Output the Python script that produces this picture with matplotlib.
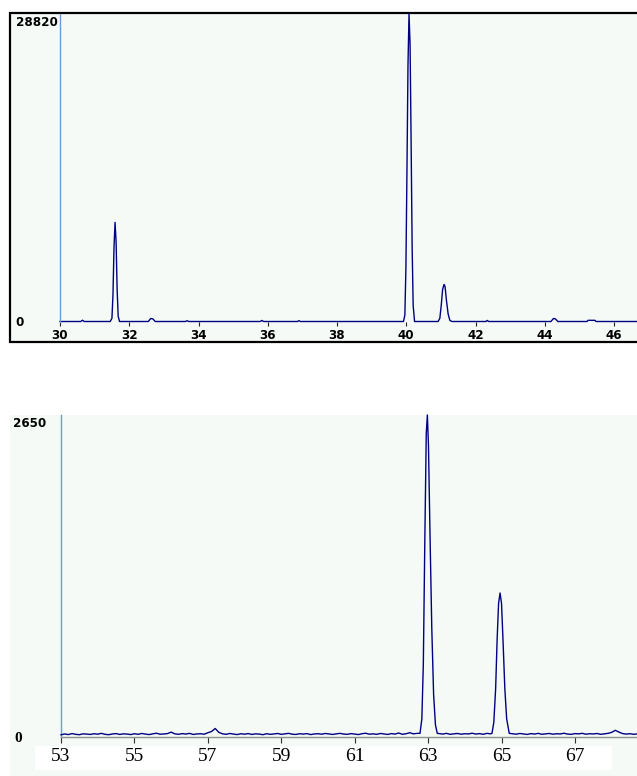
import numpy as np
import matplotlib
matplotlib.use('Agg')
import matplotlib.pyplot as plt
from matplotlib.patches import Rectangle

W, H = 637, 776
BG = '#f5faf7'
LINE = '#000080'
AXIS_BLUE = '#6a9bd8'

# --- top scan (2-theta 30..46.7), counts ---
top_x = [30.0, 30.60, 30.65, 30.70, 31.45, 31.50, 31.53, 31.56, 31.59, 31.62, 31.65, 31.68, 31.72,
         32.55, 32.62, 32.68, 32.75, 33.62, 33.67, 33.72, 35.78, 35.83, 35.88, 36.86, 36.90, 36.94,
         39.92, 39.96, 39.99, 40.02, 40.05, 40.08, 40.11, 40.14, 40.17, 40.20, 40.24,
         40.92, 40.97, 41.01, 41.05, 41.09, 41.12, 41.16, 41.21, 41.26, 41.32,
         42.30, 42.34, 42.38, 44.18, 44.25, 44.30, 44.38, 45.22, 45.25, 45.45, 45.48, 46.70]
top_y = [0, 0, 120, 0, 0, 300, 2500, 7000, 9290, 7500, 3000, 500, 0,
         0, 280, 250, 0, 0, 70, 0, 0, 100, 0, 0, 80, 0,
         0, 600, 5000, 14000, 24000, 28820, 26000, 17000, 7000, 1500, 0,
         0, 300, 1500, 3000, 3470, 3300, 2000, 700, 100, 0,
         0, 100, 0, 0, 280, 260, 0, 0, 110, 110, 0, 0]
top_ymax = 28820
top_ticks = [30, 32, 34, 36, 38, 40, 42, 44, 46]

# --- bottom scan (2-theta 53..68.7), counts ---
base1_y = [18, 25, 20, 28, 22, 19, 26, 24, 21, 27,
           23, 30, 22, 19, 25, 28, 21, 26, 24, 20,
           27, 22, 29, 24, 20, 26, 31, 23, 25, 28,
           40, 26, 22, 28, 24, 30, 21, 25, 27, 23,
           35, 45, 70, 38, 26, 22, 29, 24, 20, 27,
           23, 28, 21, 26, 24, 19, 27, 22, 25, 29,
           22, 26, 30, 23, 21, 27, 24, 28, 20, 25,
           27, 23, 29, 25, 21, 26, 30, 24, 22, 28,
           24, 20, 27, 31, 23, 26, 22, 29, 25, 21,
           28, 24, 33, 22, 27, 35, 26, 30]
peak1_x = [62.78, 62.83, 62.87, 62.91, 62.95, 62.98, 63.01, 63.05, 63.10, 63.15, 63.20, 63.25]
peak1_y = [30, 150, 600, 1600, 2500, 2650, 2400, 1700, 900, 350, 100, 30]
base2_y = [28, 24, 30, 22, 26, 29, 23, 27, 25, 31, 24, 28, 22, 30, 26]
peak2_x = [64.74, 64.79, 64.84, 64.88, 64.92, 64.96, 65.00, 65.04, 65.09, 65.14, 65.21]
peak2_y = [30, 120, 400, 800, 1100, 1185, 1100, 800, 400, 150, 30]
base3_y = [27, 23, 29, 25, 21, 28, 24, 30, 22, 26,
           29, 23, 27, 25, 31, 24, 22, 28, 26, 30,
           23, 27, 25, 29, 22, 26, 30, 38, 55, 40,
           28, 24, 27, 22, 26]
bot_ymax = 2650
bot_ticks = [53, 55, 57, 59, 61, 63, 65, 67]


def px_rect(left, top, right, bottom):
    return [left / W, 1 - bottom / H, (right - left) / W, (bottom - top) / H]


def sample_x(start, n):
    return np.round(start + 0.1 * np.arange(n), 2)


bot_x = np.concatenate([sample_x(53.0, len(base1_y)), peak1_x,
                        sample_x(63.3, len(base2_y)), peak2_x,
                        sample_x(65.3, len(base3_y))])
bot_y = np.concatenate([base1_y, peak1_y, base2_y, peak2_y, base3_y])

fig = plt.figure(figsize=(W / 100, H / 100), dpi=100)
fig.patch.set_facecolor('white')

# framed background of the upper panel and plain background of the lower one
fig.patches.append(Rectangle((10 / W, 1 - 342 / H), 700 / W, (342 - 13) / H,
                             transform=fig.transFigure, facecolor=BG,
                             edgecolor='black', lw=1.6, zorder=-2))
fig.patches.append(Rectangle((10 / W, 0), 700 / W, (H - 415) / H,
                             transform=fig.transFigure, facecolor=BG,
                             edgecolor='none', zorder=-2))
fig.patches.append(Rectangle((35 / W, 1 - 770 / H), (612 - 35) / W, (770 - 746) / H,
                             transform=fig.transFigure, facecolor='white',
                             edgecolor='none', zorder=-1))

sans = dict(family='DejaVu Sans', fontweight='bold', fontstretch='condensed')

# upper panel
ax1 = fig.add_axes(px_rect(60, 14, 637, 321.5))
ax1.set_facecolor('none')
ax1.plot(top_x, top_y, color=LINE, lw=1.0, clip_on=False)
ax1.set_xlim(30, 30 + 577 / 34.625)
ax1.set_ylim(0, top_ymax)
for s in ['top', 'right', 'bottom']:
    ax1.spines[s].set_visible(False)
ax1.spines['left'].set_color(AXIS_BLUE)
ax1.spines['left'].set_linewidth(1.0)
ax1.set_yticks([])
ax1.set_xticks(top_ticks)
ax1.set_xticklabels([str(t) for t in top_ticks], fontsize=9.5, **sans)
ax1.tick_params(axis='x', length=3, width=0.8, color='#202020', pad=2.5)
fig.text(16 / W, 1 - 22 / H, f'{top_ymax}', ha='left', va='center', fontsize=9.5, **sans)
fig.text(15 / W, 1 - 322 / H, '0', ha='left', va='center', fontsize=9.5, **sans)

# lower panel
ax2 = fig.add_axes(px_rect(61, 415, 637, 737))
ax2.set_facecolor('none')
ax2.plot(bot_x, bot_y, color=LINE, lw=1.0, clip_on=False, zorder=3)
ax2.set_xlim(53, 53 + 576 / 36.71)
ax2.set_ylim(0, bot_ymax)
for s in ['top', 'right']:
    ax2.spines[s].set_visible(False)
ax2.spines['left'].set_color(AXIS_BLUE)
ax2.spines['left'].set_linewidth(1.0)
ax2.spines['bottom'].set_color('#909090')
ax2.spines['bottom'].set_linewidth(1.0)
ax2.set_yticks([])
ax2.set_xticks(bot_ticks)
ax2.set_xticklabels([str(t) for t in bot_ticks], fontsize=14, family='Liberation Serif')
ax2.tick_params(axis='x', length=4, width=0.8, color='#303030', pad=4)
fig.text(13 / W, 1 - 424 / H, f'{bot_ymax}', ha='left', va='center', fontsize=9.5, **sans)
fig.text(14 / W, 1 - 738 / H, '0', ha='left', va='center', fontsize=11,
         family='Liberation Serif', fontweight='bold')

fig.savefig('out.png', dpi=100, facecolor='white')
